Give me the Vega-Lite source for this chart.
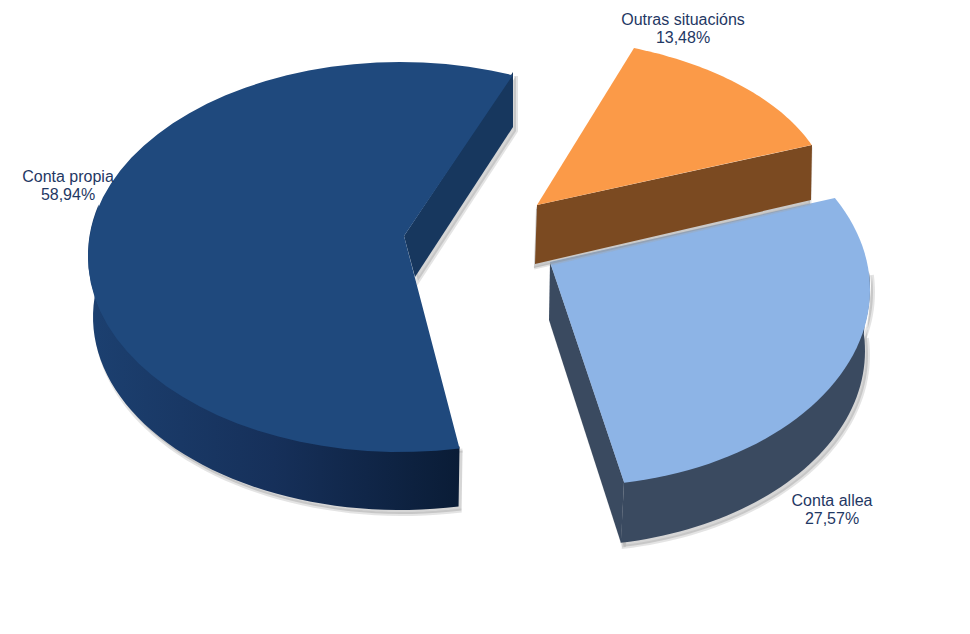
{
"$schema":"https://vega.github.io/schema/vega-lite/v6.json",
"width":970,"height":634,"padding":0,"autosize":{"type":"none"},"background":"white",
"config":{"view":{"stroke":null},"axis":{"domain":false,"ticks":false,"labels":false,"grid":false,"title":null}},
"data":{"values":[{"name":"Conta propia","value":58.94},{"name":"Outras situacións","value":13.48},{"name":"Conta allea","value":27.57}]},
"transform":[
{"calculate":"{'Conta propia':{cx:400,cy:257,rx:312,ry:195,bx:400,by:317,brx:307,bry:193,a0:169,k:1,w0:169,w1:285,ax:404,ay:236,lx:68,ly:177,cut:[[513,72],[513,127],[415,277],[404,236]]},'Outras situacións':{cx:524,cy:203,rx:307,ry:166,bx:524,by:203,brx:307,bry:166,a0:21,k:1,w0:21,w1:21,ax:537,ay:205,lx:683,ly:20,cut:[[537,205],[812,145],[811,200],[535,264]]},'Conta allea':{cx:570,cy:290,rx:300,ry:196,bx:567,by:351,brx:298,bry:195,a0:62,k:1.084,w0:85,w1:169.6,ax:550,ay:262,lx:832,ly:501,cut:[[550,262],[624,482],[621,543],[549,320]]}}[datum.name]","as":"g"},
{"calculate":"sequence(0,2.03,0.02)","as":"t"},
{"flatten":["t"]},
{"calculate":"round(datum.t*50)","as":"i"},
{"calculate":"(datum.g.a0+datum.value*3.6*datum.g.k*datum.t)*PI/180","as":"ang"},
{"calculate":"datum.t<=1?datum.g.cx+datum.g.rx*sin(datum.ang):datum.g.ax","as":"tx"},
{"calculate":"datum.t<=1?datum.g.cy-datum.g.ry*cos(datum.ang):datum.g.ay","as":"ty"},
{"calculate":"(datum.g.w0+(datum.g.w1-datum.g.w0)*(datum.t<=1?datum.t:max(0,2.02-datum.t)))*PI/180","as":"wa"},
{"calculate":"datum.t<=1?datum.g.cx+datum.g.rx*sin(datum.wa):datum.g.bx+datum.g.brx*sin(datum.wa)","as":"wx"},
{"calculate":"datum.t<=1?datum.g.cy-2-datum.g.ry*cos(datum.wa):datum.g.by-datum.g.bry*cos(datum.wa)","as":"wy"},
{"calculate":"datum.i<length(datum.g.cut)?datum.g.cut[datum.i][0]:null","as":"qx"},
{"calculate":"datum.i<length(datum.g.cut)?datum.g.cut[datum.i][1]:null","as":"qy"},
{"calculate":"replace(format(datum.value,'.2f'),'.',',')+'%'","as":"pct"}
],
"layer":[
{"transform":[{"filter":"datum.name!=='Outras situacións'"}],
 "mark":{"type":"line","filled":true,"fill":"#8a8a8a","fillOpacity":0.35,"stroke":"#a5a5a5","strokeOpacity":0.3,"strokeWidth":4,"xOffset":3,"yOffset":4},
 "encoding":{"x":{"field":"wx","type":"quantitative","scale":{"domain":[0,970],"range":[0,970],"nice":false,"zero":false},"axis":null},"y":{"field":"wy","type":"quantitative","scale":{"domain":[0,634],"range":[0,634],"nice":false,"zero":false},"axis":null},"order":{"field":"i"},"detail":{"field":"name"}}},
{"transform":[{"filter":"datum.name!=='Outras situacións'&&datum.qx!=null"}],
 "mark":{"type":"line","filled":true,"fill":"#8a8a8a","fillOpacity":0.35,"stroke":"#a5a5a5","strokeOpacity":0.3,"strokeWidth":4,"xOffset":3,"yOffset":4},
 "encoding":{"x":{"field":"qx","type":"quantitative","scale":{"domain":[0,970],"range":[0,970],"nice":false,"zero":false},"axis":null},"y":{"field":"qy","type":"quantitative","scale":{"domain":[0,634],"range":[0,634],"nice":false,"zero":false},"axis":null},"order":{"field":"i"},"detail":{"field":"name"}}},
{"transform":[{"filter":"datum.name==='Conta propia'"}],
 "mark":{"type":"line","filled":true,"stroke":null,"fill":{"gradient":"linear","x1":0,"y1":0,"x2":1,"y2":0,"stops":[{"offset":0,"color":"#1c4070"},{"offset":0.5,"color":"#16305a"},{"offset":1,"color":"#0a1c36"}]}},
 "encoding":{"x":{"field":"wx","type":"quantitative","scale":{"domain":[0,970],"range":[0,970],"nice":false,"zero":false},"axis":null},"y":{"field":"wy","type":"quantitative","scale":{"domain":[0,634],"range":[0,634],"nice":false,"zero":false},"axis":null},"order":{"field":"i"}}},
{"transform":[{"filter":"datum.name==='Conta allea'"}],
 "mark":{"type":"line","filled":true,"stroke":null,"fill":"#3a4a60"},
 "encoding":{"x":{"field":"wx","type":"quantitative","scale":{"domain":[0,970],"range":[0,970],"nice":false,"zero":false},"axis":null},"y":{"field":"wy","type":"quantitative","scale":{"domain":[0,634],"range":[0,634],"nice":false,"zero":false},"axis":null},"order":{"field":"i"}}},
{"transform":[{"filter":"datum.name==='Conta propia'&&datum.qx!=null"}],
 "mark":{"type":"line","filled":true,"stroke":null,"fill":"#17375e"},
 "encoding":{"x":{"field":"qx","type":"quantitative","scale":{"domain":[0,970],"range":[0,970],"nice":false,"zero":false},"axis":null},"y":{"field":"qy","type":"quantitative","scale":{"domain":[0,634],"range":[0,634],"nice":false,"zero":false},"axis":null},"order":{"field":"i"}}},
{"transform":[{"filter":"datum.name==='Conta allea'&&datum.qx!=null"}],
 "mark":{"type":"line","filled":true,"stroke":null,"fill":"#3a4a60"},
 "encoding":{"x":{"field":"qx","type":"quantitative","scale":{"domain":[0,970],"range":[0,970],"nice":false,"zero":false},"axis":null},"y":{"field":"qy","type":"quantitative","scale":{"domain":[0,634],"range":[0,634],"nice":false,"zero":false},"axis":null},"order":{"field":"i"}}},
{"transform":[{"filter":"datum.name==='Conta propia'&&datum.t<=1.02"}],
 "mark":{"type":"line","filled":true,"stroke":null,"fill":"#1f497d"},
 "encoding":{"x":{"field":"tx","type":"quantitative","scale":{"domain":[0,970],"range":[0,970],"nice":false,"zero":false},"axis":null},"y":{"field":"ty","type":"quantitative","scale":{"domain":[0,634],"range":[0,634],"nice":false,"zero":false},"axis":null},"order":{"field":"i"}}},
{"transform":[{"filter":"datum.name==='Conta allea'&&datum.t<=1.02"}],
 "mark":{"type":"line","filled":true,"stroke":null,"fill":"#8db4e6"},
 "encoding":{"x":{"field":"tx","type":"quantitative","scale":{"domain":[0,970],"range":[0,970],"nice":false,"zero":false},"axis":null},"y":{"field":"ty","type":"quantitative","scale":{"domain":[0,634],"range":[0,634],"nice":false,"zero":false},"axis":null},"order":{"field":"i"}}},
{"transform":[{"filter":"datum.name==='Outras situacións'&&datum.qx!=null"}],
 "mark":{"type":"line","filled":true,"fill":"#8a8a8a","fillOpacity":0.45,"stroke":"#a5a5a5","strokeOpacity":0.3,"strokeWidth":3,"xOffset":-1,"yOffset":4},
 "encoding":{"x":{"field":"qx","type":"quantitative","scale":{"domain":[0,970],"range":[0,970],"nice":false,"zero":false},"axis":null},"y":{"field":"qy","type":"quantitative","scale":{"domain":[0,634],"range":[0,634],"nice":false,"zero":false},"axis":null},"order":{"field":"i"}}},
{"transform":[{"filter":"datum.name==='Outras situacións'&&datum.qx!=null"}],
 "mark":{"type":"line","filled":true,"stroke":null,"fill":"#7b4a21"},
 "encoding":{"x":{"field":"qx","type":"quantitative","scale":{"domain":[0,970],"range":[0,970],"nice":false,"zero":false},"axis":null},"y":{"field":"qy","type":"quantitative","scale":{"domain":[0,634],"range":[0,634],"nice":false,"zero":false},"axis":null},"order":{"field":"i"}}},
{"transform":[{"filter":"datum.name==='Outras situacións'&&datum.t<=1.02"}],
 "mark":{"type":"line","filled":true,"stroke":null,"fill":"#fb9a48"},
 "encoding":{"x":{"field":"tx","type":"quantitative","scale":{"domain":[0,970],"range":[0,970],"nice":false,"zero":false},"axis":null},"y":{"field":"ty","type":"quantitative","scale":{"domain":[0,634],"range":[0,634],"nice":false,"zero":false},"axis":null},"order":{"field":"i"}}},
{"transform":[{"filter":"datum.i===0"},{"calculate":"datum.g.lx","as":"lx"},{"calculate":"datum.g.ly","as":"ly"}],
 "mark":{"type":"text","font":"Liberation Sans","fontSize":16,"fill":"#1f3864","align":"center","baseline":"middle"},
 "encoding":{"x":{"field":"lx","type":"quantitative","scale":{"domain":[0,970],"range":[0,970],"nice":false,"zero":false},"axis":null},"y":{"field":"ly","type":"quantitative","scale":{"domain":[0,634],"range":[0,634],"nice":false,"zero":false},"axis":null},"text":{"field":"name"}}},
{"transform":[{"filter":"datum.i===0"},{"calculate":"datum.g.lx","as":"lx"},{"calculate":"datum.g.ly+18","as":"ly"}],
 "mark":{"type":"text","font":"Liberation Sans","fontSize":16,"fill":"#1f3864","align":"center","baseline":"middle"},
 "encoding":{"x":{"field":"lx","type":"quantitative","scale":{"domain":[0,970],"range":[0,970],"nice":false,"zero":false},"axis":null},"y":{"field":"ly","type":"quantitative","scale":{"domain":[0,634],"range":[0,634],"nice":false,"zero":false},"axis":null},"text":{"field":"pct"}}}
]
}
